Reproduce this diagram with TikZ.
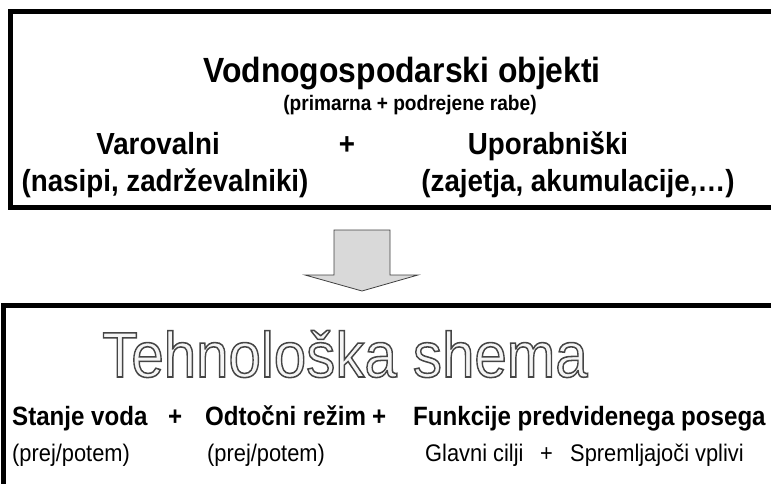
\documentclass[tikz,border=0pt]{standalone}
\usepackage{fontspec}
\usepackage{graphicx}
\setmainfont{Liberation Sans}
\newfontfamily\hollowfont[FakeBold=2.4]{Liberation Sans}
\usetikzlibrary{calc}
\definecolor{arrowfill}{HTML}{D9D9D9}
\definecolor{arrowline}{HTML}{404040}
\newcommand\cond[1]{\scalebox{0.91}[1]{#1}}
\newcommand\hollowtext[1]{\special{pdf:bcolor [0.96] [0.27]}#1\special{pdf:ecolor}}
\begin{document}
\begin{tikzpicture}[x=1pt,y=-1pt,
  frame/.style={draw=black,line width=4.5pt},
  big/.style={font=\fontsize{35}{39}\selectfont\bfseries,inner sep=0pt,anchor=base},
  sub/.style={font=\fontsize{21}{25}\selectfont\bfseries,inner sep=0pt,anchor=base},
  mid/.style={font=\fontsize{30.5}{34}\selectfont\bfseries,inner sep=0pt,anchor=base},
  rowb/.style={font=\fontsize{26.5}{30}\selectfont\bfseries,inner sep=0pt,anchor=base west},
  rowr/.style={font=\fontsize{24}{28}\selectfont,inner sep=0pt,anchor=base west},
  hollow/.style={font=\hollowfont\fontsize{64}{70}\selectfont,inner sep=0pt,anchor=base},
  blockarrow/.style={fill=arrowfill,draw=arrowline,line width=0.8pt,line join=miter}
  ]
\useasboundingbox (0,0) rectangle (771,484);
\begin{scope}
  \clip (0,0) rectangle (771,484);
  \draw[frame] (10.5,11.3) rectangle (800,207.5);
  \draw[frame] (3.3,305.7) rectangle (800,520);
\end{scope}
% top box texts
\node[big] (title) at (402,83) {\cond{Vodnogospodarski objekti}};
\node[sub] (subtitle) at (410,111) {\cond{(primarna + podrejene rabe)}};
\node[mid] (var) at (158,154) {\cond{Varovalni}};
\node[mid] (plus1) at (347,154) {\cond{+}};
\node[mid] (upo) at (548,154) {\cond{Uporabniški}};
\node[mid] (nas) at (165,191) {\cond{(nasipi, zadrževalniki)}};
\node[mid] (zaj) at (578,191) {\cond{(zajetja, akumulacije,…)}};
% block arrow
\draw[blockarrow] (334,230) -- (390,230) -- (390,275) -- (418,275) -- (362,291)
  -- (305,275) -- (334,275) -- cycle;
% hollow title
\node[hollow] (th) at (345,377) {\cond{\hollowtext{Tehnološka shema}}};
% rows
\node[rowb] (stanje) at (12,425) {\cond{Stanje voda}};
\node[rowb] (plus2) at (168,425) {\cond{+}};
\node[rowb] (odt) at (205,425) {\cond{Odtočni režim}};
\node[rowb] (plus3) at (372,425) {\cond{+}};
\node[rowb] (fun) at (413,425) {\cond{Funkcije predvidenega posega}};
\node[rowr] (pp1) at (12,461) {\cond{(prej/potem)}};
\node[rowr] (pp2) at (207,461) {\cond{(prej/potem)}};
\node[rowr] (gl) at (425,461) {\cond{Glavni cilji}};
\node[rowr] (plus4) at (540,461) {\cond{+}};
\node[rowr] (spr) at (570,461) {\cond{Spremljajoči vplivi}};
\end{tikzpicture}
\end{document}
